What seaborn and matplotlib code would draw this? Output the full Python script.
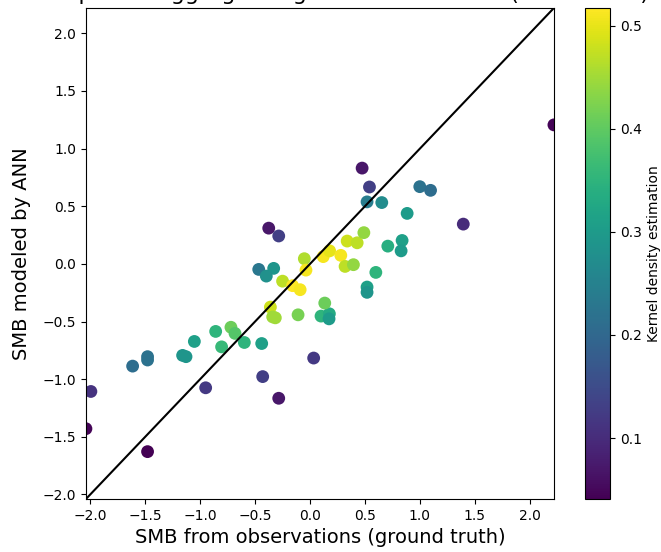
import numpy as np
import pandas as pd
import matplotlib
matplotlib.use("Agg")
import matplotlib.pyplot as plt
import seaborn as sns

# SMB from observations (ground truth)
smb_obs = [-2.04, -1.995, -1.479, -1.615, -1.479, -1.479, -1.160, -1.129, -1.053, -0.950,
           -0.859, -0.805, -0.720, -0.683, -0.598, -0.440, -0.431, -0.285, 0.033, -0.361,
           -0.340, -0.316, -0.109, 0.100, 0.176, 0.173, 0.134, 2.22, 0.474, 0.541,
           0.519, 0.653, 0.999, 1.097, 0.884, 1.395, -0.376, -0.285, -0.467, -0.331,
           -0.398, -0.250, -0.159, -0.090, -0.052, -0.037, 0.120, 0.178, 0.280, 0.338,
           0.429, 0.490, 0.319, 0.395, 0.599, 0.708, 0.838, 0.829, 0.519, 0.519]
# SMB modeled by ANN
smb_ann = [-1.430, -1.107, -1.629, -0.887, -0.805, -0.834, -0.794, -0.805, -0.673, -1.075,
           -0.586, -0.720, -0.550, -0.603, -0.682, -0.691, -0.978, -1.166, -0.817, -0.375,
           -0.460, -0.468, -0.442, -0.453, -0.433, -0.477, -0.340, 1.206, 0.831, 0.667,
           0.538, 0.532, 0.670, 0.638, 0.438, 0.345, 0.310, 0.242, -0.048, -0.039,
           -0.106, -0.150, -0.189, -0.224, 0.045, -0.054, 0.063, 0.113, 0.074, 0.198,
           0.183, 0.271, -0.022, -0.007, -0.074, 0.154, 0.203, 0.113, -0.201, -0.247]
# Kernel density estimation
kde = [0.045, 0.110, 0.041, 0.210, 0.220, 0.220, 0.290, 0.290, 0.310, 0.120,
       0.350, 0.360, 0.410, 0.390, 0.350, 0.310, 0.130, 0.070, 0.120, 0.480,
       0.450, 0.450, 0.420, 0.350, 0.330, 0.300, 0.410, 0.045, 0.070, 0.130,
       0.240, 0.270, 0.220, 0.210, 0.300, 0.100, 0.070, 0.130, 0.230, 0.290,
       0.280, 0.470, 0.517, 0.510, 0.460, 0.510, 0.510, 0.500, 0.510, 0.480,
       0.470, 0.440, 0.470, 0.440, 0.350, 0.340, 0.310, 0.300, 0.310, 0.290]

title_text = "Scatter plot of aggregated glacier SMB values (1967-2015)"

df = pd.DataFrame({"obs": smb_obs, "ann": smb_ann, "kde": kde})

fig = plt.figure(figsize=(6.61, 5.52), dpi=100)
ax = fig.add_axes([0.130, 0.096, 0.708, 0.8895])
cax = fig.add_axes([0.885, 0.096, 0.038, 0.8895])

vmin, vmax = min(kde), max(kde)
sns.scatterplot(data=df, x="obs", y="ann", hue="kde", palette="viridis",
                hue_norm=(vmin, vmax), s=85, linewidth=0,
                legend=False, ax=ax)

lo = min(df["obs"].min(), df["ann"].min())
hi = max(df["obs"].max(), df["ann"].max())
ax.plot([lo, hi], [lo, hi], color="black", linewidth=1.5)
ax.set_xlim(lo, hi)
ax.set_ylim(lo, hi)
ax.set_xticks(np.arange(-2.0, 2.01, 0.5))
ax.set_yticks(np.arange(-2.0, 2.01, 0.5))
ax.set_xlabel("SMB from observations (ground truth)", fontsize=14)
ax.set_ylabel("SMB modeled by ANN", fontsize=14, labelpad=8)
ax.set_title(title_text, fontsize=16)

sm = plt.cm.ScalarMappable(cmap="viridis", norm=plt.Normalize(vmin, vmax))
cb = fig.colorbar(sm, cax=cax)
cb.set_label("Kernel density estimation")
cb.set_ticks([0.1, 0.2, 0.3, 0.4, 0.5])

fig.savefig("out.png", dpi=100)
